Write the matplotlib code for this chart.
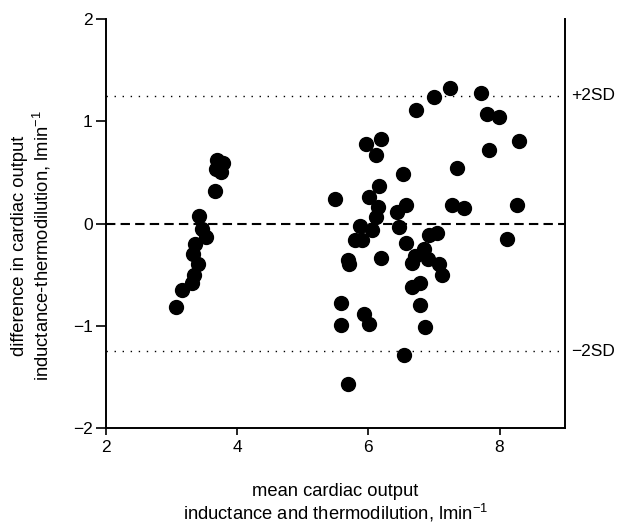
# Bland-Altman: impedancja vs termodylucja

import matplotlib.pyplot as plt
import numpy as np

plt.rcParams['font.family'] = ['Liberation Sans', 'DejaVu Sans']
plt.rcParams['mathtext.fontset'] = 'custom'
plt.rcParams['mathtext.rm'] = 'Liberation Sans'
plt.rcParams['axes.unicode_minus'] = True

# srednia (x) i roznica (y)
mean_low = [3.07, 3.16, 3.31, 3.35, 3.41, 3.33, 3.36, 3.53, 3.47, 3.42,
            3.66, 3.68, 3.76, 3.69, 3.79]
diff_low = [-0.82, -0.65, -0.58, -0.50, -0.40, -0.30, -0.20, -0.13, -0.05, 0.07,
            0.32, 0.53, 0.50, 0.62, 0.59]

mean_high = [5.49, 5.97, 6.19, 6.12, 6.53, 6.16, 6.01, 6.15, 6.12, 6.57,
             6.44, 6.73, 7.00, 7.24, 7.71, 7.81, 7.99, 8.29, 7.84, 7.35,
             7.27, 7.46, 8.26, 8.11, 6.93, 7.04, 6.58, 6.85, 5.87, 6.06,
             6.47, 5.80, 5.91, 6.71, 6.91, 6.67, 7.08, 7.13, 5.69, 5.70,
             6.20, 6.66, 6.79, 5.59, 5.94, 6.01, 5.59, 6.79, 6.87, 6.55,
             5.69]
diff_high = [0.24, 0.78, 0.83, 0.67, 0.48, 0.37, 0.26, 0.16, 0.06, 0.18,
             0.11, 1.11, 1.24, 1.33, 1.28, 1.07, 1.04, 0.81, 0.72, 0.54,
             0.18, 0.15, 0.18, -0.15, -0.11, -0.09, -0.19, -0.25, -0.02, -0.06,
             -0.03, -0.16, -0.16, -0.32, -0.35, -0.39, -0.40, -0.50, -0.36, -0.40,
             -0.34, -0.62, -0.58, -0.78, -0.89, -0.98, -0.99, -0.80, -1.01, -1.29,
             -1.57]

sd_upper, sd_lower = 1.25, -1.25
x_ticks = [2, 4, 6, 8]
y_ticks = [-2, -1, 0, 1, 2]

x = np.array(mean_low + mean_high)
y = np.array(diff_low + diff_high)

fs = 12.5
fs_lab = 13.2

fig = plt.figure(figsize=(6.19, 5.25), dpi=100)
ax = fig.add_axes([0.171, 0.185, 0.742, 0.7785])

ax.plot(x, y, 'o', color='black', ms=10, mec='black', zorder=3)

ax.axhline(0, color='black', lw=1.5, dashes=(4.5, 2.5), zorder=2)
ax.axhline(sd_upper, color='black', lw=1, linestyle=(0, (1, 4.8)), zorder=1)
ax.axhline(sd_lower, color='black', lw=1, linestyle=(0, (1, 4.8)), zorder=1)

trans = ax.get_yaxis_transform()
ax.text(1.013, sd_upper, '+2SD', transform=trans, va='center', ha='left', fontsize=fs)
ax.text(1.013, sd_lower, '\u22122SD', transform=trans, va='center', ha='left', fontsize=fs)

ax.set_xlim(2, 9)
ax.set_ylim(-2, 2)
ax.set_xticks(x_ticks)
ax.set_yticks(y_ticks)

ax.spines['top'].set_visible(False)
for s in ['left', 'right', 'bottom']:
    ax.spines[s].set_linewidth(1.4)
ax.tick_params(direction='out', width=1.2, labelsize=fs, top=False, right=False)
ax.tick_params(axis='x', length=5, pad=4)
ax.tick_params(axis='y', length=7.5, pad=2)

ax.set_xlabel('mean cardiac output\ninductance and thermodilution, lmin$^{-1}$',
              fontsize=fs_lab, linespacing=1.1)
ax.set_ylabel('difference in cardiac output\ninductance-thermodilution, lmin$^{-1}$',
              fontsize=fs_lab, linespacing=1.15)
ax.xaxis.set_label_coords(0.5, -0.135)
ax.yaxis.set_label_coords(-0.115, 0.445)

fig.savefig('out.png', dpi=100)
